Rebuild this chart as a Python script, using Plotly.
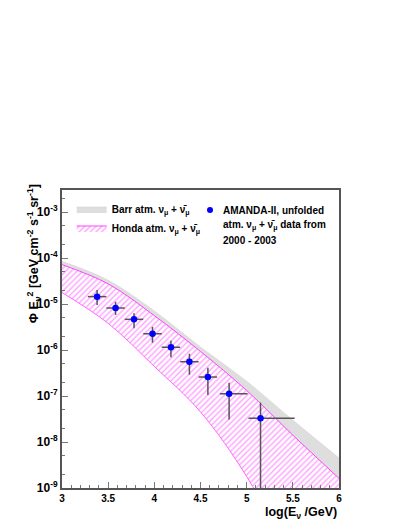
import plotly.graph_objects as go

# band curves (log10 of E/GeV vs E^2 flux)
band_logE = [3.0, 3.5, 4.0, 4.5, 5.0, 5.5, 6.0]
barr_hi = [8.5e-5, 3.3e-5, 7.1e-6, 1.17e-6, 2.1e-7, 3.0e-8, 4.5e-9]
barr_lo = [2.4e-5, 5.5e-6, 7.0e-7, 8.0e-8, 4.0e-9, 1.0e-10, 2.0e-12]
honda_hi = [7.2e-5, 2.75e-5, 5.6e-6, 9.3e-7, 1.32e-7, 1.41e-8, 1.62e-9]
honda_lo = [1.78e-5, 3.8e-6, 4.4e-7, 4.5e-8, 1.78e-9, 2.5e-11, 2.5e-13]

# AMANDA-II unfolded points
logE = [3.38, 3.58, 3.78, 3.98, 4.18, 4.38, 4.58, 4.81, 5.15]
logE_lo = [3.28, 3.48, 3.68, 3.88, 4.08, 4.28, 4.48, 4.71, 5.02]
logE_hi = [3.48, 3.68, 3.88, 4.08, 4.28, 4.48, 4.68, 5.01, 5.52]
flux = [1.45e-5, 8.2e-6, 4.65e-6, 2.26e-6, 1.15e-6, 5.57e-7, 2.59e-7, 1.12e-7, 3.27e-8]
flux_hi = [2.02e-5, 1.12e-5, 6.27e-6, 3.2e-6, 1.6e-6, 8.3e-7, 4.1e-7, 1.95e-7, 7.2e-8]
flux_lo = [9.5e-6, 5.8e-6, 2.96e-6, 1.44e-6, 6.97e-7, 2.9e-7, 1.05e-7, 3.1e-8, 1e-12]

y_ticks = [1e-9, 1e-8, 1e-7, 1e-6, 1e-5, 1e-4, 1e-3]
y_ticktext = ["10<sup>-9</sup>", "10<sup>-8</sup>", "10<sup>-7</sup>", "10<sup>-6</sup>",
              "10<sup>-5</sup>", "10<sup>-4</sup>", "10<sup>-3</sup>"]

numu = "ν<sub>μ</sub> + ν̄<sub>μ</sub>"
amanda_lines = ["AMANDA-II, unfolded", f"atm. {numu} data from", "2000 - 2003"]
FONT = "Liberation Sans"

fig = go.Figure()

# Barr band (grey)
fig.add_trace(go.Scatter(x=band_logE, y=barr_lo, mode='lines', line=dict(width=0, shape='spline'),
                         showlegend=False, hoverinfo='skip'))
fig.add_trace(go.Scatter(x=band_logE, y=barr_hi, mode='lines', fill='tonexty',
                         fillcolor='#dedede', line=dict(width=0.5, color='#d0d0d0', shape='spline'),
                         name=f"Barr atm. {numu}"))

# Honda band (magenta hatched)
fig.add_trace(go.Scatter(x=band_logE, y=honda_lo, mode='lines',
                         line=dict(width=1, color='#ff66ff', shape='spline'),
                         showlegend=False, hoverinfo='skip'))
fig.add_trace(go.Scatter(x=band_logE, y=honda_hi, mode='lines', fill='tonexty',
                         fillpattern=dict(shape='/', fgcolor='#ff44ff', bgcolor='white',
                                          size=4, solidity=0.35),
                         line=dict(width=1, color='#ff44ff', shape='spline'),
                         name=f"Honda atm. {numu}"))

# data points
fig.add_trace(go.Scatter(
    x=logE, y=flux, mode='markers',
    marker=dict(color='#0000ff', size=6.5),
    error_y=dict(type='data', symmetric=False,
                 array=[h - f for h, f in zip(flux_hi, flux)],
                 arrayminus=[f - l for f, l in zip(flux, flux_lo)],
                 color='#555555', thickness=1.5, width=0),
    error_x=dict(type='data', symmetric=False,
                 array=[h - x for h, x in zip(logE_hi, logE)],
                 arrayminus=[x - l for x, l in zip(logE, logE_lo)],
                 color='#555555', thickness=1.5, width=0),
    showlegend=False))

# page body adds 8px margin, so the figure is laid out 8px smaller and shifted
fig.update_layout(
    width=393, height=513,
    margin=dict(l=54, r=62, t=182, b=33),
    paper_bgcolor='white', plot_bgcolor='white',
    font=dict(family=FONT, size=11, color='black', weight='bold'),
    legend=dict(x=0.035, y=0.985, xanchor='left', yanchor='top', bgcolor='rgba(0,0,0,0)',
                font=dict(family=FONT, size=10, weight='bold'), tracegroupgap=0,
                traceorder='normal', itemwidth=30),
)

fig.update_xaxes(
    range=[3, 6], tickvals=[3, 3.5, 4, 4.5, 5, 5.5, 6],
    ticktext=["3", "3.5", "4", "4.5", "5", "5.5", "6"],
    ticks='inside', ticklen=6, tickcolor='#777777', tickwidth=1,
    minor=dict(dtick=0.1, ticks='inside', ticklen=3, tickcolor='#777777', showgrid=False),
    showline=True, linecolor='#555555', linewidth=2, mirror=True,
    showgrid=False, zeroline=False,
    tickfont=dict(family=FONT, size=10, weight='bold'),
)
fig.update_yaxes(
    type='log', range=[-9, -2.52], tickvals=y_ticks, ticktext=y_ticktext,
    ticks='inside', ticklen=6, tickcolor='#777777', tickwidth=1,
    minor=dict(ticks='inside', ticklen=3, tickcolor='#777777', showgrid=False),
    showline=True, linecolor='#555555', linewidth=2, mirror=True,
    showgrid=False, zeroline=False,
    tickfont=dict(family=FONT, size=12, weight='bold'),
)

# AMANDA legend entry (dot + three lines of text)
fig.add_shape(type='circle', xref='paper', yref='paper',
              x0=(207 - 62) / 277, x1=(213 - 62) / 277,
              y0=(488 - 213) / 298, y1=(488 - 207) / 298,
              fillcolor='#0000ff', line=dict(width=0))
for i, line in enumerate(amanda_lines):
    fig.add_annotation(text=line, xref='paper', yref='paper',
                       x=(221 - 62) / 277, y=(488 - (210 + 15 * i)) / 298,
                       xanchor='left', yanchor='middle', align='left', showarrow=False,
                       font=dict(family=FONT, size=10, weight='bold'))

# axis titles
fig.add_annotation(text="Φ E<sub>ν</sub><sup>2</sup> [GeV cm<sup>-2</sup> s<sup>-1</sup> sr<sup>-1</sup>]",
                   xref='paper', yref='paper', x=-0.1, y=1.025, xanchor='center', yanchor='top',
                   textangle=-90, showarrow=False,
                   font=dict(family=FONT, size=12.5, weight='bold'))
fig.add_annotation(text="log(E<sub>ν</sub> /GeV)",
                   xref='paper', yref='paper', x=1.0, y=-0.05, xanchor='right', yanchor='top',
                   showarrow=False, font=dict(family=FONT, size=12.5, weight='bold'))

fig.write_html("out.html")
